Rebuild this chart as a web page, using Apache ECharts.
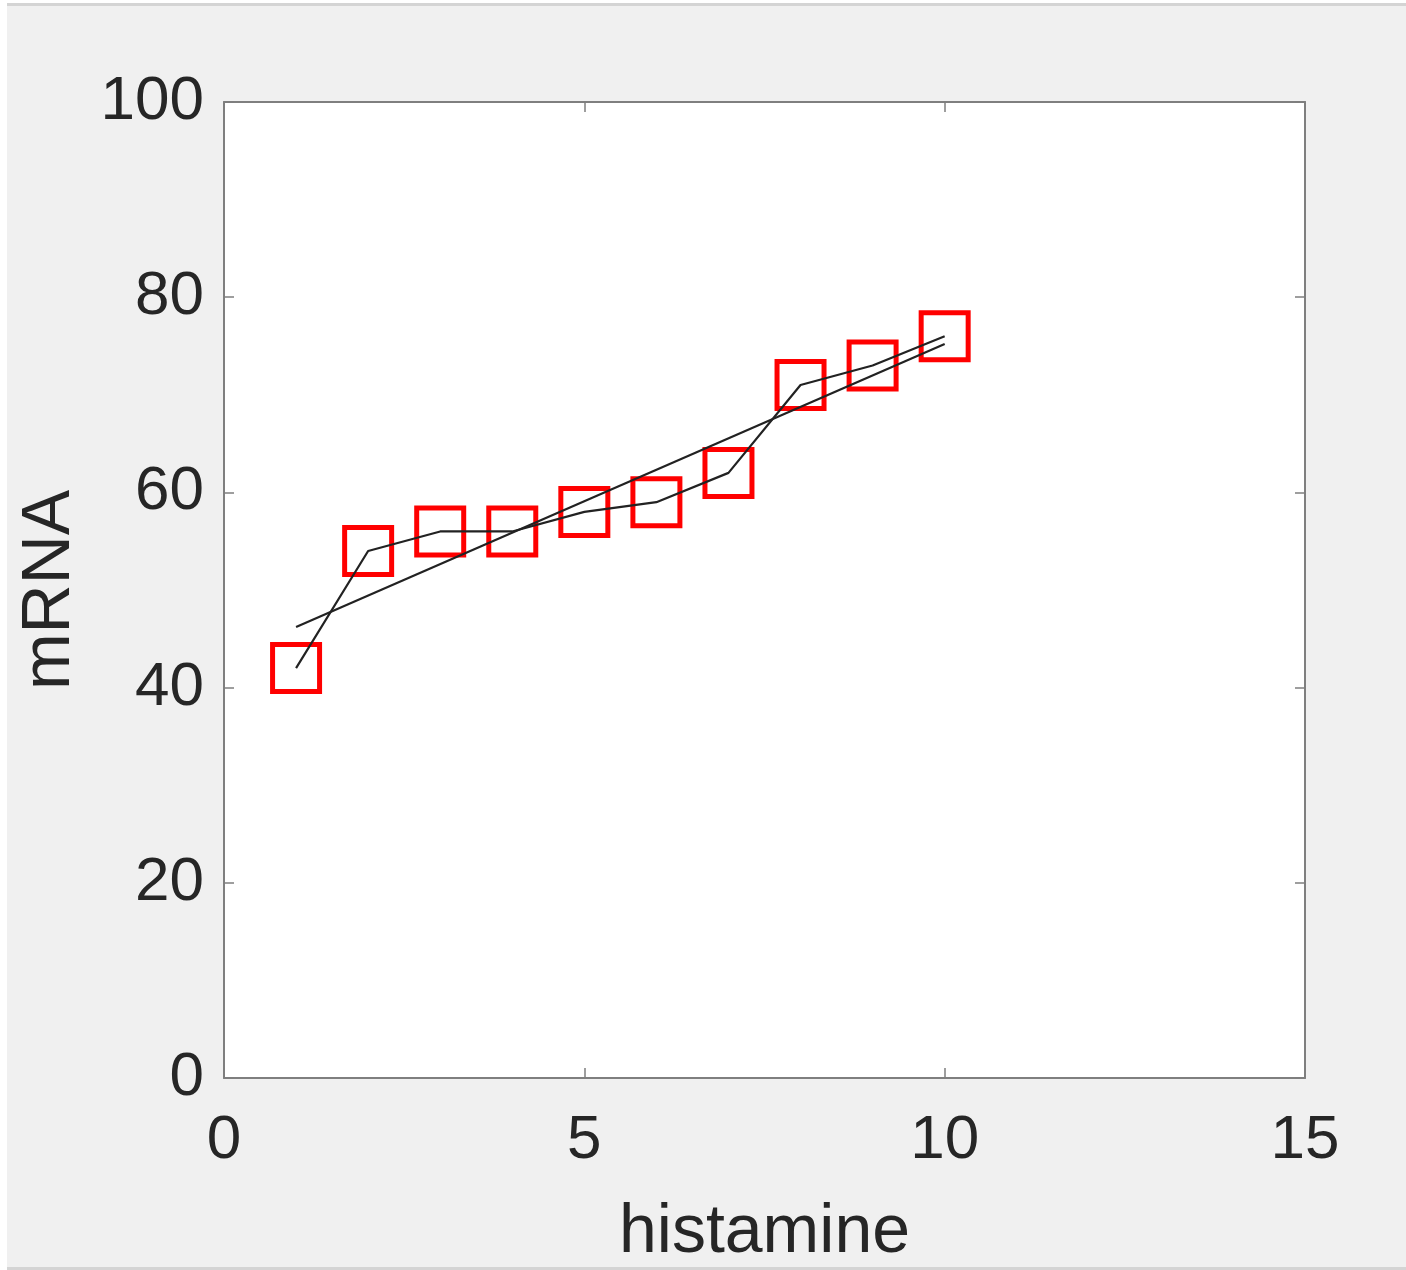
<!DOCTYPE html>
<html>
<head>
<meta charset="utf-8">
<script src="https://cdn.jsdelivr.net/npm/echarts@6/dist/echarts.min.js"></script>
<style>
  html, body { margin: 0; padding: 0; background: #ffffff; width: 1406px; height: 1270px; overflow: hidden; }
  #wrap { position: absolute; left: 7px; top: 3px; width: 1399px; height: 1261px; background: #f0f0f0;
          border-top: 3px solid #d4d4d4; border-bottom: 3px solid #d4d4d4; }
  #chart { width: 1399px; height: 1261px; }
</style>
</head>
<body>
<div id="wrap"><div id="chart"></div></div>
<script>
// ---- data ----
const histamine = [1, 2, 3, 4, 5, 6, 7, 8, 9, 10];
const mrna = [42, 54, 56, 56, 58, 59, 62, 71, 73, 76];
const fitX = [1, 10];
const fitY = [46.2, 75.2];
const xTicks = [0, 5, 10, 15];
const yTicks = [0, 20, 40, 60, 80, 100];

const pts = histamine.map((x, i) => [x, mrna[i]]);
const fitPts = fitX.map((x, i) => [x, fitY[i]]);

const FONT = "'Liberation Sans', Arial, Helvetica, sans-serif";
const TXT = '#262626';
const AX = '#7f7f7f';

const chart = echarts.init(document.getElementById('chart'), null, { renderer: 'canvas' });

const baseX = {
  type: 'value', min: xTicks[0], max: xTicks[xTicks.length - 1], interval: 5,
  axisLine: { show: true, onZero: false, lineStyle: { color: AX, width: 2 } },
  axisTick: { show: true, inside: true, length: 10, lineStyle: { color: AX, width: 1.5 } },
  splitLine: { show: false }
};
const baseY = {
  type: 'value', min: yTicks[0], max: yTicks[yTicks.length - 1], interval: 20,
  axisLine: { show: true, onZero: false, lineStyle: { color: AX, width: 2 } },
  axisTick: { show: true, inside: true, length: 10, lineStyle: { color: AX, width: 1.5 } },
  splitLine: { show: false }
};

chart.setOption({
  backgroundColor: '#f0f0f0',
  animation: false,
  grid: { left: 217, top: 96, width: 1081, height: 976, show: true, backgroundColor: '#ffffff',
          borderWidth: 0, containLabel: false, outerBoundsMode: 'none' },
  xAxis: [
    Object.assign({}, baseX, {
      position: 'bottom',
      name: 'histamine', nameLocation: 'middle', nameGap: 121,
      nameTextStyle: { fontSize: 68, color: TXT, fontFamily: FONT },
      axisLabel: { fontSize: 62, color: TXT, fontFamily: FONT, margin: 32 }
    }),
    Object.assign({}, baseX, { position: 'top', axisLabel: { show: false } })
  ],
  yAxis: [
    Object.assign({}, baseY, {
      position: 'left',
      name: 'mRNA', nameLocation: 'middle', nameGap: 140, nameRotate: 90,
      nameTextStyle: { fontSize: 68, color: TXT, fontFamily: FONT },
      axisLabel: { fontSize: 62, color: TXT, fontFamily: FONT, margin: 20 }
    }),
    Object.assign({}, baseY, { position: 'right', axisLabel: { show: false } })
  ],
  series: [
    {
      type: 'scatter', data: pts, xAxisIndex: 0, yAxisIndex: 0,
      symbol: 'rect', symbolSize: 47,
      itemStyle: { color: 'rgba(0,0,0,0)', borderColor: '#ff0000', borderWidth: 5, opacity: 1 },
      z: 2
    },
    {
      type: 'line', data: pts, xAxisIndex: 0, yAxisIndex: 0,
      showSymbol: false, symbol: 'none',
      lineStyle: { color: '#222222', width: 2.2 }, z: 3
    },
    {
      type: 'line', data: fitPts, xAxisIndex: 0, yAxisIndex: 0,
      showSymbol: false, symbol: 'none',
      lineStyle: { color: '#222222', width: 2.2 }, z: 3
    }
  ]
});
</script>
</body>
</html>
